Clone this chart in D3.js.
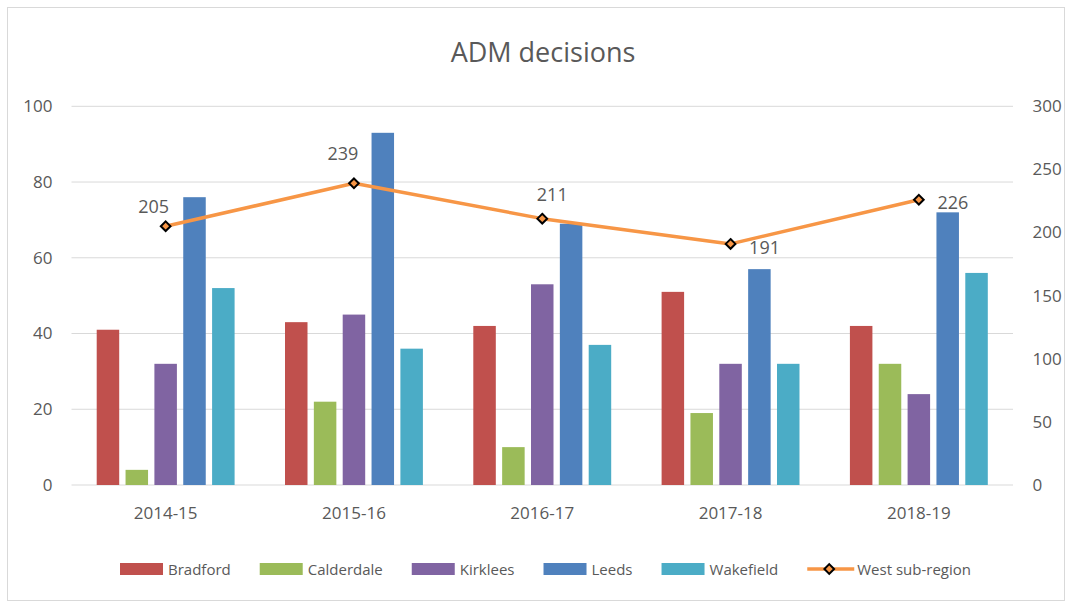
<!DOCTYPE html>
<html>
<head>
<meta charset="utf-8">
<script src="https://cdn.jsdelivr.net/npm/d3@7"></script>
<style>
	html, body { margin: 0; padding: 0; background: #fff; }
	svg text { font-family: 'Open Sans', 'Liberation Sans', sans-serif; fill: #595959; }
</style>
</head>
<body>
<div id="chart"></div>
<script>
// data
let years = ['2014-15', '2015-16', '2016-17', '2017-18', '2018-19']
let districts = ['Bradford', 'Calderdale', 'Kirklees', 'Leeds', 'Wakefield']
let bradford = [41, 43, 42, 51, 42]
let calderdale = [4, 22, 10, 19, 32]
let kirklees = [32, 45, 53, 32, 24]
let leeds = [76, 93, 69, 57, 72]
let wakefield = [52, 36, 37, 32, 56]
let westSubRegion = [205, 239, 211, 191, 226]
let leftTicks = [0, 20, 40, 60, 80, 100]
let rightTicks = [0, 50, 100, 150, 200, 250, 300]

let barSeries = [bradford, calderdale, kirklees, leeds, wakefield]
let colors = ['#c0504d', '#9bbb59', '#8064a2', '#4f81bd', '#4bacc6']
let lineColor = '#f79646'

// where excel put each data label, relative to its point
let labelOffsets = [[-12, -13], [-11, -23], [10, -18], [34, 10], [34, 9]]

let width = 1069
let height = 603
let plotLeft = 71.5
let plotRight = 1013
let plotTop = 106.3
let plotBottom = 485

let svg = d3
	.select('#chart')
	.append('svg:svg')
	.attr('width', width)
	.attr('height', height)

// chart frame
svg.append('svg:rect')
	.attr('x', 7.5)
	.attr('y', 7.5)
	.attr('width', 1057)
	.attr('height', 593)
	.attr('fill', '#fff')
	.attr('stroke', '#d9d9d9')
	.attr('stroke-width', 1)

svg.append('svg:text')
	.attr('x', 543)
	.attr('y', 61.5)
	.attr('text-anchor', 'middle')
	.attr('font-size', 27)
	.text('ADM decisions')

let x0 = d3.scaleBand()
	.domain(years)
	.range([plotLeft, plotRight])
	.paddingInner(0.234)
	.paddingOuter(0.117)

let x1 = d3.scaleBand()
	.domain(districts)
	.range([0, x0.bandwidth()])
	.paddingInner(0.22)
	.paddingOuter(0.11)

let yLeft = d3.scaleLinear().domain([0, 100]).range([plotBottom, plotTop])
let yRight = d3.scaleLinear().domain([0, 300]).range([plotBottom, plotTop])

// gridlines
svg.append('g')
	.selectAll('line')
	.data(leftTicks)
	.join('line')
	.attr('x1', plotLeft)
	.attr('x2', plotRight)
	.attr('y1', d => yLeft(d))
	.attr('y2', d => yLeft(d))
	.attr('stroke', '#d9d9d9')
	.attr('stroke-width', 1)

// left axis
let leftAxis = svg.append('g')
	.attr('transform', `translate(${plotLeft - 19},0)`)
	.call(d3.axisLeft(yLeft).tickValues(leftTicks).tickSize(0).tickPadding(0))
leftAxis.select('.domain').remove()
leftAxis.selectAll('text').attr('font-size', 17).attr('fill', '#595959')

// right axis
let rightAxis = svg.append('g')
	.attr('transform', `translate(${plotRight + 19.5},0)`)
	.call(d3.axisRight(yRight).tickValues(rightTicks).tickSize(0).tickPadding(0))
rightAxis.select('.domain').remove()
rightAxis.selectAll('text').attr('font-size', 17).attr('fill', '#595959')

// category axis
let bottomAxis = svg.append('g')
	.attr('transform', `translate(0,${plotBottom})`)
	.call(d3.axisBottom(x0).tickSize(0).tickPadding(22))
bottomAxis.select('.domain').remove()
bottomAxis.selectAll('text').attr('font-size', 17).attr('fill', '#595959')

// bars
let groups = svg.append('g')
	.selectAll('g')
	.data(years)
	.join('g')
	.attr('transform', d => `translate(${x0(d)},0)`)

groups.selectAll('rect')
	.data((year, i) => districts.map((name, j) => ({ name: name, value: barSeries[j][i], color: colors[j] })))
	.join('rect')
	.attr('x', d => x1(d.name))
	.attr('width', x1.bandwidth())
	.attr('y', d => yLeft(d.value))
	.attr('height', d => plotBottom - yLeft(d.value))
	.attr('fill', d => d.color)

// line on the secondary axis
let cx = i => x0(years[i]) + x0.bandwidth() / 2

let line = d3.line()
	.x((d, i) => cx(i))
	.y(d => yRight(d))

svg.append('path')
	.datum(westSubRegion)
	.attr('d', line)
	.attr('fill', 'none')
	.attr('stroke', lineColor)
	.attr('stroke-width', 3.5)
	.attr('stroke-linejoin', 'round')

let diamond = d3.symbol().type(d3.symbolDiamond2).size(60)

svg.append('g')
	.selectAll('path')
	.data(westSubRegion)
	.join('path')
	.attr('d', diamond)
	.attr('transform', (d, i) => `translate(${cx(i)},${yRight(d)})`)
	.attr('fill', lineColor)
	.attr('stroke', '#000')
	.attr('stroke-width', 2)

svg.append('g')
	.selectAll('text')
	.data(westSubRegion)
	.join('text')
	.attr('x', (d, i) => cx(i) + labelOffsets[i][0])
	.attr('y', (d, i) => yRight(d) + labelOffsets[i][1])
	.attr('text-anchor', 'middle')
	.attr('font-size', 18)
	.text(d => d)

// legend
let legendItems = districts.map((name, i) => ({ name: name, color: colors[i], line: false }))
legendItems.push({ name: 'West sub-region', color: lineColor, line: true })

let legend = svg.append('g')
let legendX = 0
legendItems.forEach(item => {
	let g = legend.append('g').attr('transform', `translate(${legendX},0)`)
	if (item.line) {
		g.append('line')
			.attr('x1', 0).attr('x2', 47)
			.attr('y1', 569).attr('y2', 569)
			.attr('stroke', item.color)
			.attr('stroke-width', 3.5)
		g.append('path')
			.attr('d', diamond)
			.attr('transform', 'translate(22,569)')
			.attr('fill', item.color)
			.attr('stroke', '#000')
			.attr('stroke-width', 2)
	} else {
		g.append('rect')
			.attr('x', 0).attr('y', 563)
			.attr('width', 43).attr('height', 12)
			.attr('fill', item.color)
	}
	let t = g.append('text')
		.attr('x', item.line ? 50 : 48)
		.attr('y', 575)
		.attr('font-size', 15)
		.text(item.name)
	legendX += (item.line ? 50 : 48) + t.node().getComputedTextLength() + 29
})
legend.attr('transform', `translate(${120},0)`)
</script>
</body>
</html>
